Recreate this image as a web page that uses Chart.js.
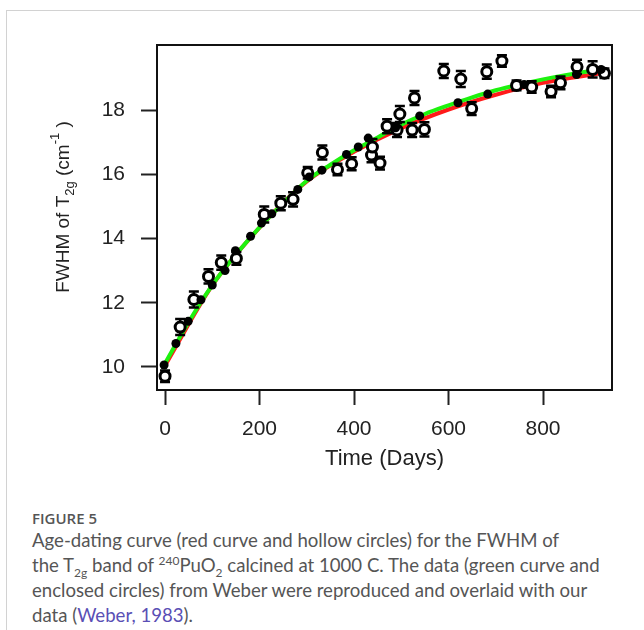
<!DOCTYPE html>
<html>
<head>
<meta charset="utf-8">
<script src="https://cdn.jsdelivr.net/npm/chart.js@4.4.1/dist/chart.umd.min.js"></script>
<style>
  html, body { margin: 0; padding: 0; background: #fff; }
  body { width: 644px; height: 630px; position: relative; overflow: hidden; }
  .frame { position: absolute; left: 6px; top: 10px; width: 700px; height: 700px; border: 1px solid #d2d2d2; }
  #wrap { position: absolute; left: 0; top: 0; width: 644px; height: 480px; }
  .figlabel { position: absolute; left: 32px; top: 508px; font: 600 15px "Open Sans", sans-serif; color: #555; }
  .caption { position: absolute; left: 32px; top: 528px; margin: 0; font: 400 18.6px Lato, sans-serif; line-height: 25px; color: #555; white-space: nowrap; }
  .caption sub, .caption sup { font-size: 12px; line-height: 0; }
  .caption a { color: #5a4fb5; text-decoration: none; }
</style>
</head>
<body>
<div class="frame"></div>
<div id="wrap"><canvas id="fwhmChart" width="644" height="480"></canvas></div>
<div class="figlabel">FIGURE 5</div>
<p class="caption">Age-dating curve (red curve and hollow circles) for the FWHM of<br>the T<sub>2g</sub> band of <sup>240</sup>PuO<sub>2</sub> calcined at 1000 C. The data (green curve and<br>enclosed circles) from Weber were reproduced and overlaid with our<br>data (<a href="#">Weber, 1983</a>).</p>
<script>
// our data (hollow circles with error bars)
const hollowDays = [0, 32, 61, 92, 119, 151, 210, 245, 271, 302, 333, 365, 395, 437, 439, 455, 470, 491, 497, 523, 528, 549, 590, 626, 649, 681, 713, 744, 776, 817, 837, 872, 905, 930];
const hollowFwhm = [9.71, 11.24, 12.1, 12.82, 13.25, 13.38, 14.75, 15.1, 15.22, 16.05, 16.68, 16.15, 16.33, 16.6, 16.85, 16.35, 17.5, 17.38, 17.88, 17.38, 18.38, 17.4, 19.22, 18.97, 18.05, 19.2, 19.53, 18.77, 18.72, 18.58, 18.85, 19.35, 19.27, 19.15];
const hollowErr = [0.18, 0.25, 0.25, 0.22, 0.22, 0.2, 0.25, 0.22, 0.22, 0.18, 0.22, 0.18, 0.2, 0.22, 0.25, 0.2, 0.22, 0.22, 0.25, 0.22, 0.22, 0.22, 0.22, 0.25, 0.2, 0.22, 0.18, 0.15, 0.18, 0.18, 0.2, 0.22, 0.25, 0.15];

// Weber data (filled circles)
const weberDays = [-2, 23, 49, 76, 100, 127, 149, 181, 204, 226, 281, 305, 332, 384, 409, 430, 488, 539, 620, 683, 760, 871, 923];
const weberFwhm = [10.06, 10.73, 11.42, 12.09, 12.55, 13.0, 13.62, 14.07, 14.48, 14.77, 15.53, 15.92, 16.13, 16.62, 16.85, 17.13, 17.45, 17.82, 18.23, 18.5, 18.8, 19.11, 19.27];

// fitted curves
const greenDays = [-2, 50, 100, 150, 200, 250, 300, 350, 400, 450, 500, 550, 600, 650, 700, 750, 800, 850, 923];
const greenFwhm = [10.06, 11.4, 12.55, 13.5, 14.35, 15.1, 15.8, 16.3, 16.75, 17.15, 17.55, 17.88, 18.15, 18.4, 18.62, 18.8, 18.96, 19.1, 19.27];
const redDays = [0, 100, 200, 300, 400, 500, 600, 700, 800, 923];
const redFwhm = [10.04, 12.54, 14.34, 15.78, 16.7, 17.44, 18.02, 18.48, 18.85, 19.15];

const xTickValues = [0, 200, 400, 600, 800];
const yTickValues = [10, 12, 14, 16, 18];

const toXY = (xs, ys) => xs.map((x, i) => ({ x: x, y: ys[i] }));

// error bars drawn under the hollow circles
const errorBars = {
  id: 'errorBars',
  beforeDatasetDraw(chart, args) {
    if (chart.data.datasets[args.index].label !== 'ours') return;
    const { ctx, scales: { x, y } } = chart;
    ctx.save();
    ctx.strokeStyle = '#000';
    ctx.lineWidth = 2.5;
    hollowDays.forEach((d, i) => {
      const px = x.getPixelForValue(d);
      const top = y.getPixelForValue(hollowFwhm[i] + hollowErr[i]);
      const bot = y.getPixelForValue(hollowFwhm[i] - hollowErr[i]);
      ctx.beginPath();
      ctx.moveTo(px, top); ctx.lineTo(px, bot);
      ctx.moveTo(px - 5, top); ctx.lineTo(px + 5, top);
      ctx.moveTo(px - 5, bot); ctx.lineTo(px + 5, bot);
      ctx.stroke();
    });
    ctx.restore();
  }
};

// box around plot + y title with sub/superscripts
const frameAndTitle = {
  id: 'frameAndTitle',
  afterDraw(chart) {
    const { ctx, chartArea: a } = chart;
    ctx.save();
    ctx.strokeStyle = '#111';
    ctx.lineWidth = 2;
    ctx.strokeRect(a.left, a.top, a.right - a.left, a.bottom - a.top);

    const parts = [
      ['FWHM of T', 19, 0],
      ['2g', 13, 5],
      [' (cm', 19, 0],
      ['-1', 13, -10],
      [' )', 19, 0]
    ];
    ctx.fillStyle = '#222';
    ctx.textBaseline = 'alphabetic';
    let total = 0;
    parts.forEach(p => { ctx.font = p[1] + 'px "Liberation Sans", Arial, sans-serif'; total += ctx.measureText(p[0]).width; });
    ctx.translate(69, 207);
    ctx.rotate(-Math.PI / 2);
    let cx = -total / 2;
    parts.forEach(p => {
      ctx.font = p[1] + 'px "Liberation Sans", Arial, sans-serif';
      ctx.fillText(p[0], cx, p[2]);
      cx += ctx.measureText(p[0]).width;
    });
    ctx.restore();
  }
};

const ctx = document.getElementById('fwhmChart').getContext('2d');
new Chart(ctx, {
  type: 'scatter',
  data: {
    datasets: [
      {
        label: 'red',
        data: toXY(redDays, redFwhm),
        showLine: true,
        borderColor: '#ff1a1a',
        borderWidth: 4,
        pointRadius: 0,
        cubicInterpolationMode: 'monotone',
        order: 5
      },
      {
        label: 'green',
        data: toXY(greenDays, greenFwhm),
        showLine: true,
        borderColor: '#1ef20f',
        borderWidth: 4,
        pointRadius: 0,
        cubicInterpolationMode: 'monotone',
        order: 4
      },
      {
        label: 'ours',
        data: toXY(hollowDays, hollowFwhm),
        pointRadius: 5,
        pointBorderWidth: 3,
        pointBackgroundColor: '#fff',
        pointBorderColor: '#000',
        order: 3
      },
      {
        label: 'weber',
        data: toXY(weberDays, weberFwhm),
        pointRadius: 4.5,
        pointBorderWidth: 0,
        pointBackgroundColor: '#000',
        pointBorderColor: '#000',
        order: 2
      }
    ]
  },
  options: {
    responsive: false,
    animation: false,
    layout: { padding: { top: 45, right: 32, left: 0, bottom: 0 } },
    plugins: { legend: { display: false }, tooltip: { enabled: false } },
    scales: {
      x: {
        type: 'linear',
        min: -17,
        max: 946,
        afterBuildTicks: (s) => { s.ticks = xTickValues.map(v => ({ value: v })); },
        afterFit: (s) => { s.height = 90; },
        grid: { drawOnChartArea: false, drawTicks: true, tickLength: 15, color: '#222', tickWidth: 2 },
        border: { display: true, color: '#111', width: 2 },
        ticks: { padding: 12, color: '#222', font: { family: '"Liberation Sans", Arial, sans-serif', size: 21 } },
        title: { display: true, text: 'Time (Days)', color: '#222', padding: { top: 0, bottom: 8 }, font: { family: '"Liberation Sans", Arial, sans-serif', size: 22 } }
      },
      y: {
        type: 'linear',
        min: 9.28,
        max: 20.03,
        afterBuildTicks: (s) => { s.ticks = yTickValues.map(v => ({ value: v })); },
        afterFit: (s) => { s.width = 157; },
        grid: { drawOnChartArea: false, drawTicks: true, tickLength: 16, color: '#222', tickWidth: 2 },
        border: { display: true, color: '#111', width: 2 },
        ticks: { padding: 16, color: '#222', font: { family: '"Liberation Sans", Arial, sans-serif', size: 21 } }
      }
    }
  },
  plugins: [errorBars, frameAndTitle]
});
</script>
</body>
</html>
